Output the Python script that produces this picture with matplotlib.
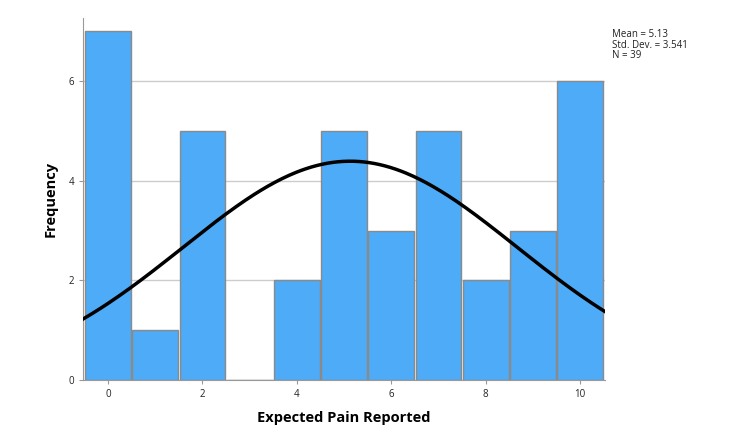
import numpy as np
from matplotlib import pyplot as plt

plt.rcParams['font.family'] = ['Open Sans', 'DejaVu Sans']

pain_values = [0, 1, 2, 3, 4, 5, 6, 7, 8, 9, 10]
frequencies = [7, 1, 5, 0, 2, 5, 3, 5, 2, 3, 6]
mean_val = 5.13
std_dev = 3.541
n_total = 39

fig = plt.figure(figsize=(7.5, 4.45), dpi=100)
ax = fig.add_axes([0.1107, 0.146, 0.696, 0.8136])

ax.bar(pain_values, frequencies, width=0.97, color='#4dabf7',
       edgecolor='#8a8a8a', linewidth=1.0, zorder=2)

# normal curve from the reported stats, scaled by N * bin width
xs = np.linspace(-0.53, 10.53, 300)
ys = n_total / (std_dev * np.sqrt(2 * np.pi)) * np.exp(-0.5 * ((xs - mean_val) / std_dev) ** 2)
ax.plot(xs, ys, color='black', linewidth=2.5, zorder=3)

ax.set_xlim(-0.53, 10.53)
ax.set_ylim(0, 7.27)
ax.set_xticks([0, 2, 4, 6, 8, 10])
ax.set_yticks([0, 2, 4, 6])
ax.yaxis.grid(True, color='#cccccc', linewidth=1.0, zorder=0)
ax.set_axisbelow(True)

for side in ['top', 'right']:
    ax.spines[side].set_visible(False)
for side in ['left', 'bottom']:
    ax.spines[side].set_color('#999999')
ax.tick_params(axis='both', labelsize=7, colors='#999999', labelcolor='#222222', length=3)

ax.set_xlabel('Expected Pain Reported', fontsize=10.5, fontweight='bold', labelpad=8)
ax.set_ylabel('Frequency', fontsize=10.5, fontweight='bold', labelpad=8)

fig.text(0.816, 0.935, f"Mean = {mean_val}\nStd. Dev. = {std_dev}\nN = {n_total}",
         fontsize=7, va='top', ha='left', linespacing=0.95, color='#222222')

plt.savefig('out.png', dpi=100)
